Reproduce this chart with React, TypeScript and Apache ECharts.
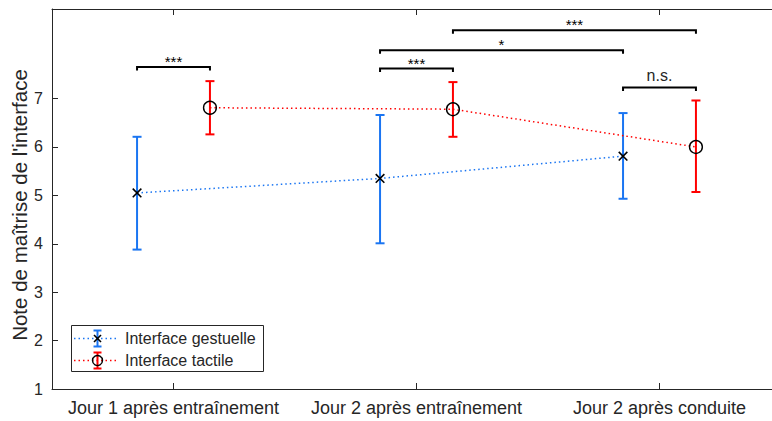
import React, { useEffect, useRef } from "react";
import * as echarts from "echarts";

// Conditions along the x axis (placed at 1, 2, 3)
const categories = [
  "Jour 1 après entraînement",
  "Jour 2 après entraînement",
  "Jour 2 après conduite",
];
const yTickValues = [1, 2, 3, 4, 5, 6, 7];
const seriesNames = ["Interface gestuelle", "Interface tactile"];

// Mean score and error-bar bounds per condition
const gestMean = [5.05, 5.35, 5.81];
const gestLow = [3.88, 4.01, 4.93];
const gestHigh = [6.21, 6.66, 6.7];

const tactMean = [6.81, 6.78, 6.0];
const tactLow = [6.26, 6.21, 5.07];
const tactHigh = [7.36, 7.34, 6.96];

// Significance brackets (x positions in axis units, level in score units)
const bracketStart = [0.85, 1.85, 1.85, 2.15, 2.85];
const bracketEnd = [1.15, 2.15, 2.85, 3.15, 3.15];
const bracketLevel = [7.65, 7.62, 8.0, 8.41, 7.23];
const bracketLabels = ["***", "***", "*", "***", "n.s."];

const GROUP_OFFSET = 0.15;
const BLUE = "#1a75f2";
const RED = "#ff0000";
const INK = "#262626";
const FONT = "'Liberation Sans', Arial, Helvetica, sans-serif";

const gestX = categories.map((_, i) => i + 1 - GROUP_OFFSET);
const tactX = categories.map((_, i) => i + 1 + GROUP_OFFSET);

function errorBarRenderer(color: string) {
  return (_params: any, api: any) => {
    const x = api.value(0);
    const lo = api.coord([x, api.value(1)]);
    const hi = api.coord([x, api.value(2)]);
    const cap = 4.5;
    const style = { stroke: color, lineWidth: 2 };
    return {
      type: "group",
      children: [
        { type: "line", shape: { x1: lo[0], y1: lo[1], x2: hi[0], y2: hi[1] }, style },
        { type: "line", shape: { x1: lo[0] - cap, y1: lo[1], x2: lo[0] + cap, y2: lo[1] }, style },
        { type: "line", shape: { x1: hi[0] - cap, y1: hi[1], x2: hi[0] + cap, y2: hi[1] }, style },
      ],
    };
  };
}

function crossRenderer(_params: any, api: any) {
  const p = api.coord([api.value(0), api.value(1)]);
  const h = 4.3;
  const style = { stroke: "#000", lineWidth: 1.6 };
  return {
    type: "group",
    children: [
      { type: "line", shape: { x1: p[0] - h, y1: p[1] - h, x2: p[0] + h, y2: p[1] + h }, style },
      { type: "line", shape: { x1: p[0] - h, y1: p[1] + h, x2: p[0] + h, y2: p[1] - h }, style },
    ],
  };
}

function circleRenderer(_params: any, api: any) {
  const p = api.coord([api.value(0), api.value(1)]);
  return {
    type: "circle",
    shape: { cx: p[0], cy: p[1], r: 6.4 },
    style: { fill: "none", stroke: "#000", lineWidth: 1.4 },
  };
}

function bracketRenderer(params: any, api: any) {
  const a = api.coord([api.value(0), api.value(2)]);
  const b = api.coord([api.value(1), api.value(2)]);
  const label = bracketLabels[params.dataIndex];
  const isStars = label.indexOf("*") >= 0;
  const midX = (a[0] + b[0]) / 2;
  return {
    type: "group",
    children: [
      {
        type: "polyline",
        shape: {
          points: [
            [a[0], a[1] + 3.5],
            [a[0], a[1]],
            [b[0], b[1]],
            [b[0], b[1] + 3.5],
          ],
        },
        style: { stroke: "#000", lineWidth: 2, fill: "none" },
      },
      {
        type: "text",
        style: {
          text: label,
          x: midX,
          y: a[1] - (isStars ? 5.5 : 12),
          align: "center",
          verticalAlign: "middle",
          fontSize: isStars ? 15 : 16,
          fontFamily: FONT,
          fill: isStars ? "#000" : INK,
        },
      },
    ],
  };
}

function legendEntry(y: number, color: string, marker: any[], text: string) {
  const cx = 97.5;
  return [
    {
      type: "line",
      shape: { x1: 74, y1: y, x2: 119, y2: y },
      style: { stroke: color, lineWidth: 1.5, lineDash: [1.5, 3] },
    },
    { type: "line", shape: { x1: cx, y1: y - 8, x2: cx, y2: y + 8 }, style: { stroke: color, lineWidth: 2 } },
    { type: "line", shape: { x1: cx - 4, y1: y - 8, x2: cx + 4, y2: y - 8 }, style: { stroke: color, lineWidth: 2 } },
    { type: "line", shape: { x1: cx - 4, y1: y + 8, x2: cx + 4, y2: y + 8 }, style: { stroke: color, lineWidth: 2 } },
    ...marker,
    {
      type: "text",
      style: {
        text,
        x: 125,
        y,
        align: "left",
        verticalAlign: "middle",
        fontSize: 16,
        fontFamily: FONT,
        fill: INK,
      },
    },
  ];
}

export default function App() {
  const ref = useRef<HTMLDivElement>(null);

  useEffect(() => {
    if (!ref.current) return;
    const chart = echarts.init(ref.current, null, { renderer: "svg" });

    // The plot box continues past the right edge of the canvas
    const axisCommon = {
      type: "value" as const,
      min: 0.5,
      max: 3.463,
      splitLine: { show: false },
      axisLine: { show: true, lineStyle: { color: INK, width: 1 } },
      axisTick: {
        show: true,
        inside: true,
        length: 6,
        customValues: [1, 2, 3],
        lineStyle: { color: INK, width: 1 },
      },
    };

    const cx = 97.5;
    const legendY1 = 338.5;
    const legendY2 = 360.5;

    chart.setOption({
      animation: false,
      backgroundColor: "#ffffff",
      textStyle: { fontFamily: FONT },
      grid: { left: 52, top: 9, right: 0, height: 380, containLabel: false },
      xAxis: [
        {
          ...axisCommon,
          position: "bottom",
          axisLabel: {
            show: true,
            customValues: [1, 2, 3],
            formatter: (v: number) => categories[Math.round(v) - 1] ?? "",
            fontSize: 18,
            fontFamily: FONT,
            color: INK,
            margin: 10,
          },
        },
        {
          ...axisCommon,
          position: "top",
          axisLabel: { show: false },
        },
      ],
      yAxis: [
        {
          type: "value",
          min: 1,
          max: 8.85,
          position: "left",
          splitLine: { show: false },
          axisLine: { show: true, lineStyle: { color: INK, width: 1 } },
          axisTick: {
            show: true,
            inside: true,
            length: 6,
            customValues: yTickValues,
            lineStyle: { color: INK, width: 1 },
          },
          axisLabel: {
            show: true,
            customValues: yTickValues,
            fontSize: 16,
            fontFamily: FONT,
            color: INK,
            margin: 9,
          },
        },
      ],
      series: [
        {
          name: seriesNames[0] + " (barres)",
          type: "custom",
          renderItem: errorBarRenderer(BLUE),
          data: gestX.map((x, i) => [x, gestLow[i], gestHigh[i]]),
          z: 2,
        },
        {
          name: seriesNames[1] + " (barres)",
          type: "custom",
          renderItem: errorBarRenderer(RED),
          data: tactX.map((x, i) => [x, tactLow[i], tactHigh[i]]),
          z: 2,
        },
        {
          name: seriesNames[0],
          type: "line",
          symbol: "none",
          data: gestX.map((x, i) => [x, gestMean[i]]),
          lineStyle: { color: BLUE, width: 1.5, type: [1.5, 3] },
          z: 3,
        },
        {
          name: seriesNames[1],
          type: "line",
          symbol: "none",
          data: tactX.map((x, i) => [x, tactMean[i]]),
          lineStyle: { color: RED, width: 1.5, type: [1.5, 3] },
          z: 3,
        },
        {
          name: seriesNames[0] + " (moyenne)",
          type: "custom",
          renderItem: crossRenderer,
          data: gestX.map((x, i) => [x, gestMean[i]]),
          z: 4,
        },
        {
          name: seriesNames[1] + " (moyenne)",
          type: "custom",
          renderItem: circleRenderer,
          data: tactX.map((x, i) => [x, tactMean[i]]),
          z: 4,
        },
        {
          name: "significativité",
          type: "custom",
          renderItem: bracketRenderer,
          data: bracketStart.map((s, i) => [s, bracketEnd[i], bracketLevel[i]]),
          z: 5,
        },
      ],
      graphic: [
        {
          type: "text",
          x: 19,
          y: 205,
          rotation: Math.PI / 2,
          style: {
            text: "Note de maîtrise de l'interface",
            align: "center",
            verticalAlign: "middle",
            fontSize: 20.5,
            fontFamily: FONT,
            fill: INK,
          },
        },
        {
          type: "group",
          children: [
            {
              type: "rect",
              shape: { x: 71.5, y: 325.5, width: 192, height: 46 },
              style: { fill: "#ffffff", stroke: INK, lineWidth: 1 },
            },
            ...legendEntry(legendY1, BLUE, [
              {
                type: "line",
                shape: { x1: cx - 3.5, y1: legendY1 - 3.5, x2: cx + 3.5, y2: legendY1 + 3.5 },
                style: { stroke: "#000", lineWidth: 1.6 },
              },
              {
                type: "line",
                shape: { x1: cx - 3.5, y1: legendY1 + 3.5, x2: cx + 3.5, y2: legendY1 - 3.5 },
                style: { stroke: "#000", lineWidth: 1.6 },
              },
            ], seriesNames[0]),
            ...legendEntry(legendY2, RED, [
              {
                type: "circle",
                shape: { cx, cy: legendY2, r: 5 },
                style: { fill: "none", stroke: "#000", lineWidth: 1.4 },
              },
            ], seriesNames[1]),
          ],
        },
      ],
    });

    return () => chart.dispose();
  }, []);

  return (
    <div
      ref={ref}
      style={{ position: "fixed", left: 0, top: 0, width: 772, height: 421, background: "#fff" }}
    />
  );
}
